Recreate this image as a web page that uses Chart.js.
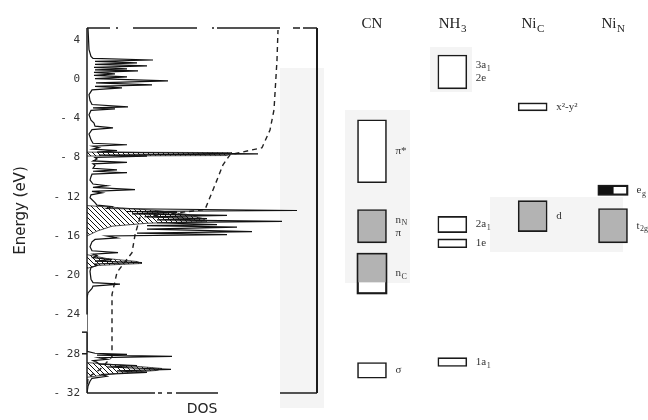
<!DOCTYPE html>
<html lang="en">
<head>
<meta charset="utf-8">
<title>DOS and level diagram</title>
<script src="https://cdn.jsdelivr.net/npm/chart.js"></script>
<style>
  body { margin: 0; background: #fff; }
  #wrap { position: relative; width: 648px; height: 420px; }
  #wrap canvas { position: absolute; left: 0; top: 0; }
  .tint { position: absolute; background: #f4f4f4; }
</style>
</head>
<body>
<div id="wrap">
  <div class="tint" style="left:280px;top:68px;width:44px;height:340px"></div>
  <div class="tint" style="left:345px;top:110px;width:65px;height:173px"></div>
  <div class="tint" style="left:430px;top:47px;width:42px;height:45px"></div>
  <div class="tint" style="left:490px;top:197px;width:133px;height:55px"></div>
  <canvas id="dosChart" width="648" height="420"></canvas>
  <canvas id="levelChart" width="648" height="420"></canvas>
</div>

<script type="text/javascript">

// energy axis tick labels (eV)
const energyTicks = [4, 0, -4, -8, -12, -16, -20, -24, -28, -32];

// total DOS (energy, arbitrary DOS units)
const dosEnergy = [5.2, 3.0, 2.3, 2.1, 1.94, 1.8, 1.64, 1.5, 1.33, 1.18, 1.03, 0.93, 0.83, 0.68, 0.52, 0.38, 0.22, 0.05,
  -0.19, -0.4, -0.6, -0.75, -0.9, -1.1, -1.6, -2.2, -2.6, -2.84, -2.95, -3.04, -3.2, -3.65, -4.2, -4.5, -4.8, -4.97,
  -5.15, -5.6, -6.2, -6.55, -6.7, -6.85, -7.0, -7.15, -7.3, -7.45, -7.62, -7.75, -7.85, -8.0, -8.15, -8.35, -8.5,
  -8.65, -8.8, -9.1, -9.25, -9.4, -9.55, -9.7, -9.95, -10.3, -10.7, -10.87, -11.05, -11.28, -11.45, -11.6, -11.8,
  -12.1, -12.6, -12.85, -13.0, -13.2, -13.4, -13.5, -13.6, -13.75, -13.9, -14.05, -14.23, -14.35, -14.5, -14.65,
  -14.84, -14.95, -15.1, -15.3, -15.55, -15.7, -15.86, -16.0, -16.2, -16.35, -16.6, -17.1, -17.5, -17.7, -17.85,
  -18.0, -18.2, -18.4, -18.55, -18.7, -18.85, -19.0, -19.2, -19.6, -20.4, -20.75, -20.9, -21.1, -21.35, -21.8,
  -22.3, -27.76, -27.95, -28.06, -28.15, -28.27, -28.4, -28.57, -28.7, -28.88, -29.05, -29.2, -29.35, -29.6,
  -29.75, -29.9, -30.1, -30.3, -30.5, -30.8, -31.3, -32];
const dosValue = [1, 2, 4, 6, 66, 8, 50, 8, 60, 7, 40, 8, 51, 7, 28, 7, 40, 8,
  81, 9, 65, 8, 35, 5, 2, 3, 5, 41, 6, 28, 4, 2, 4, 7, 8, 26,
  5, 2, 4, 6, 40, 6, 12, 6, 30, 10, 171, 12, 60, 8, 10, 6, 40,
  6, 8, 6, 30, 6, 40, 5, 4, 3, 6, 20, 6, 48, 5, 15, 4,
  3, 8, 10, 25, 20, 210, 40, 90, 45, 140, 60, 120, 70, 195, 70,
  130, 60, 150, 60, 165, 50, 140, 20, 30, 8, 5, 3, 5, 31, 6,
  10, 6, 25, 8, 55, 8, 10, 4, 3, 4, 6, 33, 6, 5, 1,
  0, 0, 8, 40, 10, 85, 12, 20, 6, 10, 12, 50, 20, 84,
  30, 60, 15, 20, 5, 3, 1, 0];

// hatched (projected) parts of the DOS
const hatchPiEnergy = [-7.45, -7.5, -7.8, -7.85];
const hatchPiValue = [0, 145, 140, 0];
const hatchMainEnergy = [-12.9, -13.1, -13.4, -13.8, -14.2, -14.5, -14.7, -15.0, -15.5, -16.0];
const hatchMainValue = [0, 30, 70, 100, 115, 120, 60, 25, 10, 0];
const hatchNcEnergy = [-17.9, -18.3, -18.6, -18.8, -19.0, -19.3];
const hatchNcValue = [0, 20, 50, 55, 10, 0];
const hatchSigmaEnergy = [-28.9, -29.2, -29.5, -29.7, -30.0, -30.4];
const hatchSigmaValue = [0, 40, 75, 70, 30, 0];

// integrated DOS (dashed)
const intEnergy = [-32, -30.4, -29.6, -28.3, -21.96, -19.7, -17.7, -15.9, -14.1, -13.3, -10.8, -8.74, -7.72, -7.0, -5.2, -3.14, 1.94, 5.0];
const intValue = [0, 1, 13, 25, 25, 30, 45, 48, 53, 118, 128, 136, 143, 175, 183, 187, 190, 191];

// fragment / atom levels (eV)
const columnTitles = ['CN', 'NH_3', 'Ni_C', 'Ni_N'];
const levelColumn = ['CN', 'CN', 'CN', 'CN', 'NH_3', 'NH_3', 'NH_3', 'NH_3', 'Ni_C', 'Ni_C', 'Ni_N', 'Ni_N'];
const levelTop = [-4.16, -13.3, -17.8, -28.9, 2.45, -14.0, -16.3, -28.4, -2.43, -12.4, -10.87, -13.2];
const levelBottom = [-10.57, -16.7, -21.86, -30.5, -1.0, -15.65, -17.2, -29.3, -3.24, -15.55, -11.8, -16.7];
const levelName = [['π*'], ['n_N', 'π'], ['n_C'], ['σ'], ['3a_1', '2e'], ['2a_1'], ['1e'], ['1a_1'],
  ['x²-y²'], ['d'], ['e_g'], ['t_2g']];
const levelShade = ['none', 'grey', 'greyTop', 'none', 'none', 'none', 'none', 'none', 'none', 'grey', 'halfBlack', 'grey'];

const pts = (es, vs) => es.map((e, i) => ({ x: vs[i], y: e }));

function makeHatch() {
    const c = document.createElement('canvas');
    c.width = 5; c.height = 5;
    const g = c.getContext('2d');
    g.strokeStyle = '#111';
    g.lineWidth = 1;
    g.beginPath();
    g.moveTo(0, 0); g.lineTo(5, 5);
    g.moveTo(-1, 4); g.lineTo(1, 6);
    g.moveTo(4, -1); g.lineTo(6, 1);
    g.stroke();
    return g.createPattern(c, 'repeat');
}
const hatch = makeHatch();

function hatchSet(es, vs) {
    return { data: pts(es, vs), borderWidth: 0.8, borderColor: '#222', backgroundColor: hatch, fill: 'origin' };
}

// draws "a_b" as a with subscript b
function drawRich(ctx, text, x, y, size, family, align) {
    const parts = text.split('_');
    const main = parts[0], sub = parts[1] || '';
    ctx.font = size + 'px ' + family;
    const wMain = ctx.measureText(main).width;
    ctx.font = Math.round(size * 0.72) + 'px ' + family;
    const wSub = ctx.measureText(sub).width;
    let x0 = align === 'center' ? x - (wMain + wSub) / 2 : x;
    ctx.textAlign = 'left';
    ctx.textBaseline = 'middle';
    ctx.font = size + 'px ' + family;
    ctx.fillText(main, x0, y);
    if (sub) {
        ctx.font = Math.round(size * 0.72) + 'px ' + family;
        ctx.fillText(sub, x0 + wMain + 0.5, y + size * 0.32);
    }
}

const dosFrame = {
    id: 'dosFrame',
    afterDraw(chart) {
        const { ctx, chartArea: { left, top, right, bottom } } = chart;
        const yS = chart.scales.y;
        const seg = (x1, y1, x2, y2) => { ctx.beginPath(); ctx.moveTo(x1, y1); ctx.lineTo(x2, y2); ctx.stroke(); };
        ctx.save();
        ctx.strokeStyle = '#1c1c1c';
        ctx.lineWidth = 1.5;
        ctx.setLineDash([23, 6, 2, 15, 64, 15, 2, 3, 63, 13, 7, 3, 14, 100]);
        seg(left, top, right, top);
        ctx.setLineDash([68, 3, 4, 5, 5, 4, 42, 62, 40]);
        seg(left, bottom, right, bottom);
        ctx.setLineDash([]);
        ctx.lineWidth = 2;
        seg(right, top, right, bottom);
        ctx.lineWidth = 1.5;
        const g1 = yS.getPixelForValue(-24.0), g2 = yS.getPixelForValue(-25.8);
        seg(left, top, left, g1);
        seg(left, g2, left, bottom);
        seg(left - 5, g2, left, g2);
        const t28 = yS.getPixelForValue(-28);
        seg(left - 5, t28, left, t28);
        ctx.restore();
    }
};

new Chart(document.getElementById('dosChart'), {
    type: 'line',
    data: {
        datasets: [
            hatchSet(hatchPiEnergy, hatchPiValue),
            hatchSet(hatchMainEnergy, hatchMainValue),
            hatchSet(hatchNcEnergy, hatchNcValue),
            hatchSet(hatchSigmaEnergy, hatchSigmaValue),
            { data: pts(dosEnergy, dosValue), borderColor: '#111', borderWidth: 1.2, fill: false },
            { data: pts(intEnergy, intValue), borderColor: '#222', borderWidth: 1.4, borderDash: [5, 4], fill: false }
        ]
    },
    options: {
        responsive: false,
        animation: false,
        indexAxis: 'y',
        layout: { padding: { top: 28, right: 331, left: 0, bottom: 0 } },
        elements: { point: { radius: 0 }, line: { tension: 0 } },
        plugins: { legend: { display: false }, tooltip: { enabled: false } },
        scales: {
            x: {
                type: 'linear', min: 0, max: 230,
                grid: { display: false, drawTicks: false },
                border: { display: false },
                ticks: { display: false },
                title: { display: true, text: 'DOS', color: '#222', font: { family: 'DejaVu Sans', size: 14 }, padding: { top: 0, bottom: 2 } },
                afterFit(scale) { scale.height = 27; }
            },
            y: {
                type: 'linear', min: -32, max: 5.2,
                afterBuildTicks(scale) { scale.ticks = energyTicks.map(v => ({ value: v })); },
                grid: { display: false, drawTicks: false },
                border: { display: false },
                ticks: {
                    color: '#333', padding: 7,
                    font: { family: 'DejaVu Sans Mono', size: 11 },
                    callback: v => v < 0 ? '- ' + (-v) : String(v)
                },
                title: { display: true, text: 'Energy (eV)', color: '#222', font: { family: 'DejaVu Sans', size: 15 }, padding: { top: 12 } },
                afterFit(scale) { scale.width = 87; }
            }
        }
    },
    plugins: [dosFrame]
});

const levelDecor = {
    id: 'levelDecor',
    afterDatasetsDraw(chart) {
        const { ctx, chartArea } = chart;
        ctx.save();
        levelColumn.forEach((col, i) => {
            const el = chart.getDatasetMeta(i).data[columnTitles.indexOf(col)];
            const { x, y, base, width } = el.getProps(['x', 'y', 'base', 'width'], true);
            const l = x - width / 2, r = x + width / 2;
            const t = Math.min(y, base), b = Math.max(y, base);
            if (levelShade[i] === 'greyTop' || levelShade[i] === 'halfBlack') {
                if (levelShade[i] === 'greyTop') {
                    ctx.fillStyle = '#b3b3b3';
                    ctx.fillRect(l, t, r - l, (b - t) * 0.72);
                } else {
                    ctx.fillStyle = '#111';
                    ctx.fillRect(l, t, (r - l) * 0.52, b - t);
                }
                ctx.strokeStyle = '#1a1a1a';
                ctx.lineWidth = 1.6;
                ctx.strokeRect(l, t, r - l, b - t);
            }
            ctx.fillStyle = '#333';
            const lines = levelName[i];
            const cy = (t + b) / 2;
            lines.forEach((s, k) => {
                drawRich(ctx, s, r + 9, cy + (k - (lines.length - 1) / 2) * 13, 11, 'Liberation Serif', 'left');
            });
        });
        ctx.fillStyle = '#222';
        columnTitles.forEach((c, j) => {
            drawRich(ctx, c, chart.scales.x.getPixelForValue(j), chartArea.top - 4, 15, 'Liberation Serif', 'center');
        });
        ctx.restore();
    }
};

new Chart(document.getElementById('levelChart'), {
    type: 'bar',
    data: {
        labels: columnTitles,
        datasets: levelColumn.map((col, i) => ({
            data: columnTitles.map(c => c === col ? [levelBottom[i], levelTop[i]] : null),
            backgroundColor: levelShade[i] === 'grey' ? '#b3b3b3' : '#ffffff'
        }))
    },
    options: {
        responsive: false,
        animation: false,
        layout: { padding: { left: 372, right: 35, top: 28, bottom: 27 } },
        plugins: { legend: { display: false }, tooltip: { enabled: false } },
        datasets: {
            bar: { grouped: false, barThickness: 29, borderWidth: 1.6, borderColor: '#1a1a1a', borderSkipped: false, clip: false }
        },
        scales: {
            x: { display: false, offset: false },
            y: { display: false, min: -32, max: 5.2 }
        }
    },
    plugins: [levelDecor]
});
</script>
</body>
</html>
